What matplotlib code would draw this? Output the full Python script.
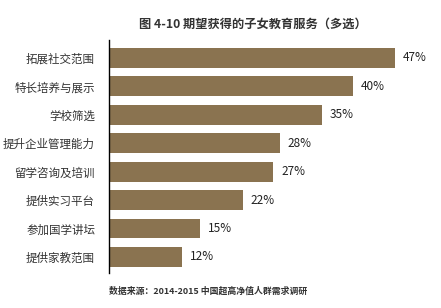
import matplotlib
matplotlib.use("Agg")
import matplotlib.pyplot as plt

plt.rcParams['font.family'] = ['Noto Sans CJK SC', 'DejaVu Sans']

# data
categories = ["拓展社交范围", "特长培养与展示", "学校筛选", "提升企业管理能力",
              "留学咨询及培训", "提供实习平台", "参加国学讲坛", "提供家教范围"]
values = [47, 40, 35, 28, 27, 22, 15, 12]
value_labels = ["47%", "40%", "35%", "28%", "27%", "22%", "15%", "12%"]
title = "图 4-10 期望获得的子女教育服务（多选）"
source = "数据来源：2014-2015 中国超高净值人群需求调研"

bar_color = "#8a7350"

fig = plt.figure(figsize=(4.41, 3.08), dpi=100)
ax = fig.add_axes([0.247, 0.114, 0.746, 0.756])

ypos = list(range(len(categories)))
ax.barh(ypos, values, height=0.7, color=bar_color)

for y, v, lab in zip(ypos, values, value_labels):
    ax.text(v + 1.3, y, lab, va="center", ha="left", fontsize=8.5, color="#222222")

ax.set_xlim(0, 54)
ax.set_ylim(7.56, -0.63)
ax.set_yticks(ypos)
ax.set_yticklabels(categories, fontsize=8.3, color="#333333")
ax.tick_params(axis="y", length=0, pad=10)
ax.set_xticks([])
for s in ["top", "right", "bottom"]:
    ax.spines[s].set_visible(False)
ax.spines["left"].set_linewidth(1.0)
ax.spines["left"].set_color("black")

fig.text(0.573, 0.922, title, ha="center", va="center", fontsize=8.8,
         fontweight="bold", color="#333333")
fig.text(0.247, 0.055, source, ha="left", va="center", fontsize=6.4,
         fontweight="bold", color="#333333")

fig.savefig("out.png", dpi=100, facecolor="white")
